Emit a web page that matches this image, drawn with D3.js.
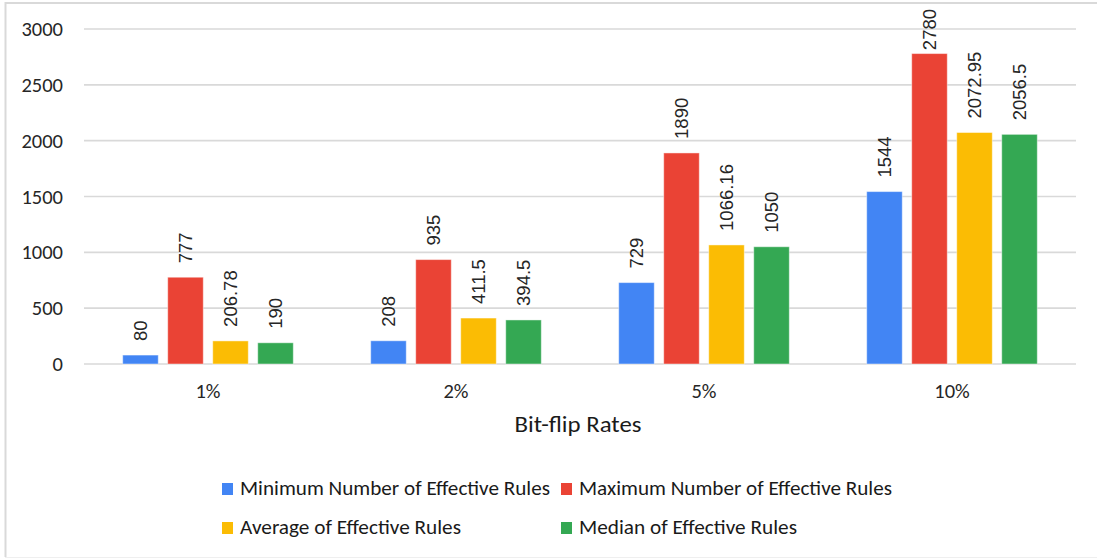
<!DOCTYPE html>
<html>
<head>
<meta charset="utf-8">
<script src="https://cdn.jsdelivr.net/npm/d3@7"></script>
<style>
  html, body { margin: 0; padding: 0; background: #fff; }
  svg { display: block; }
</style>
</head>
<body>
<svg id="chart" width="1097" height="559"></svg>
<script>
// Bit-flip rates on the x axis, four summary statistics per rate
const categories = ["1%", "2%", "5%", "10%"];
const seriesNames = [
  "Minimum Number of Effective Rules",
  "Maximum Number of Effective Rules",
  "Average of Effective Rules",
  "Median of Effective Rules"
];
const minRules = [80, 208, 729, 1544];
const maxRules = [777, 935, 1890, 2780];
const avgRules = [206.78, 411.5, 1066.16, 2072.95];
const medianRules = [190, 394.5, 1050, 2056.5];
const yTicks = [0, 500, 1000, 1500, 2000, 2500, 3000];
const xTitle = "Bit-flip Rates";

const seriesValues = [minRules, maxRules, avgRules, medianRules];
const colors = ["#4285F4", "#EA4335", "#FBBC04", "#34A853"];

const svg = d3.select("#chart");
const uiFont = "Carlito, Calibri, Lato, sans-serif";
const numFont = "'Liberation Sans', Arial, sans-serif";

// chart frame
svg.append("line").attr("x1", 5.5).attr("x2", 5.5).attr("y1", 2).attr("y2", 557)
  .attr("stroke", "#d9d9d9").attr("stroke-width", 2);
svg.append("line").attr("x1", 5).attr("x2", 1097).attr("y1", 3).attr("y2", 3)
  .attr("stroke", "#d9d9d9").attr("stroke-width", 2);
svg.append("line").attr("x1", 5).attr("x2", 1097).attr("y1", 557.5).attr("y2", 557.5)
  .attr("stroke", "#efefef").attr("stroke-width", 1);

const plot = { left: 84, right: 1076, top: 29, bottom: 364 };

const x0 = d3.scaleBand().domain(categories).range([plot.left, plot.right]).padding(0);
const x1 = d3.scaleBand().domain(seriesNames).range([-85.3, 85.3]).paddingInner(0.21).paddingOuter(0);
const y = d3.scaleLinear().domain([0, 3000]).range([plot.bottom, plot.top]);

// gridlines
svg.append("g").selectAll("line").data(yTicks).join("line")
  .attr("x1", plot.left).attr("x2", plot.right)
  .attr("y1", d => y(d)).attr("y2", d => y(d))
  .attr("stroke", "#d9d9d9").attr("stroke-width", 1.6);

// y tick labels
svg.append("g").selectAll("text").data(yTicks).join("text")
  .attr("x", 63).attr("y", d => y(d))
  .attr("text-anchor", "end").attr("dominant-baseline", "central")
  .attr("font-family", uiFont).attr("font-size", 20.5).attr("fill", "#262626")
  .text(d => d);

// x category labels
svg.append("g").selectAll("text").data(categories).join("text")
  .attr("x", d => x0(d) + x0.bandwidth() / 2).attr("y", 398)
  .attr("text-anchor", "middle")
  .attr("font-family", uiFont).attr("font-size", 20.5).attr("fill", "#262626")
  .text(d => d);

// x axis title
svg.append("text")
  .attr("x", 578).attr("y", 432).attr("text-anchor", "middle")
  .attr("font-family", uiFont).attr("font-size", 23).attr("fill", "#1a1a1a")
  .attr("textLength", 127).attr("lengthAdjust", "spacingAndGlyphs")
  .text(xTitle);

// bars + rotated value labels
const groups = svg.append("g").selectAll("g").data(categories).join("g")
  .attr("transform", d => `translate(${x0(d) + x0.bandwidth() / 2},0)`);

groups.each(function(cat, ci) {
  const g = d3.select(this);
  const rows = seriesNames.map((s, si) => ({ s, si, v: seriesValues[si][ci] }));
  g.selectAll("rect").data(rows).join("rect")
    .attr("x", d => x1(d.s))
    .attr("width", x1.bandwidth())
    .attr("y", d => y(d.v))
    .attr("height", d => y(0) - y(d.v))
    .attr("fill", d => colors[d.si])
    .attr("stroke", "rgba(255,255,255,0.45)").attr("stroke-width", 1);
  g.selectAll("text").data(rows).join("text")
    .attr("dominant-baseline", "central")
    .attr("font-family", numFont).attr("font-size", 18.5).attr("fill", "#262626")
    .text(d => d.v)
    .attr("transform", function(d) {
      // keep labels inside the frame: slide tall ones down onto the bar
      const len = this.getComputedTextLength();
      const start = Math.max(y(d.v) - 14, 9 + len);
      return `translate(${x1(d.s) + x1.bandwidth() / 2},${start}) rotate(-90)`;
    });
});

// legend: two rows of two entries
const legendItems = [
  { i: 0, x: 222, y: 495, len: 310 },
  { i: 1, x: 561, y: 495, len: 313 },
  { i: 2, x: 222, y: 534, len: 221 },
  { i: 3, x: 561, y: 534, len: 218 }
];
const lg = svg.append("g").selectAll("g").data(legendItems).join("g");
lg.append("rect")
  .attr("x", d => d.x).attr("y", d => d.y - 12)
  .attr("width", 11).attr("height", 12)
  .attr("fill", d => colors[d.i]);
lg.append("text")
  .attr("x", d => d.x + 18).attr("y", d => d.y)
  .attr("font-family", uiFont).attr("font-size", 21).attr("fill", "#1a1a1a")
  .attr("textLength", d => d.len).attr("lengthAdjust", "spacingAndGlyphs")
  .text(d => seriesNames[d.i]);
</script>
</body>
</html>
